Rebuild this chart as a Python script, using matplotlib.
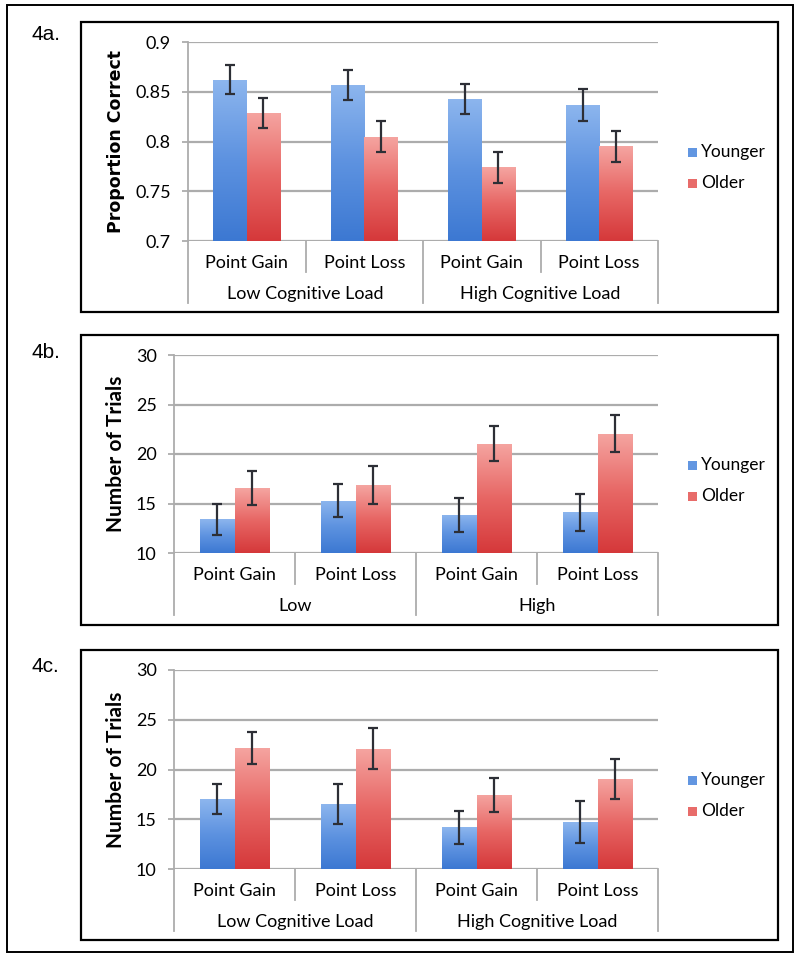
import numpy as np
import matplotlib
matplotlib.use("Agg")
import matplotlib.pyplot as plt
from matplotlib.patches import Rectangle
from matplotlib.colors import LinearSegmentedColormap

# Dati
condizioni = ["Point Gain", "Point Loss", "Point Gain", "Point Loss"]
gruppi_a = ["Low Cognitive Load", "High Cognitive Load"]
gruppi_b = ["Low", "High"]
gruppi_c = ["Low Cognitive Load", "High Cognitive Load"]
serie = ["Younger", "Older"]

# 4a - Proportion Correct
young_a = [0.862, 0.857, 0.843, 0.837]
young_a_err = [0.0145, 0.015, 0.015, 0.016]
older_a = [0.829, 0.805, 0.774, 0.795]
older_a_err = [0.015, 0.016, 0.0155, 0.016]
ticks_a = [0.7, 0.75, 0.8, 0.85, 0.9]

# 4b - Number of Trials
young_b = [13.4, 15.3, 13.85, 14.1]
young_b_err = [1.6, 1.7, 1.75, 1.9]
older_b = [16.55, 16.85, 21.05, 22.05]
older_b_err = [1.75, 1.9, 1.8, 1.85]

# 4c - Number of Trials
young_c = [17.0, 16.5, 14.2, 14.7]
young_c_err = [1.5, 2.0, 1.65, 2.1]
older_c = [22.2, 22.1, 17.45, 19.05]
older_c_err = [1.6, 2.05, 1.7, 2.05]
ticks_bc = [10, 15, 20, 25, 30]

W, H = 800, 956
fig = plt.figure(figsize=(W / 100, H / 100), dpi=100)

cm_blu = LinearSegmentedColormap.from_list("blu", ["#3c78d2", "#5d92e0", "#8db6ee"])
cm_ros = LinearSegmentedColormap.from_list("ros", ["#d5383a", "#e76664", "#f5a5a1"])
grigio = "#acacac"
font_txt = ["Lato", "DejaVu Sans"]


def box_px(x0, y0, x1, y1, lw=1.6):
    r = Rectangle((x0 / W, 1 - y1 / H), (x1 - x0) / W, (y1 - y0) / H,
                  transform=fig.transFigure, fill=False, ec="black", lw=lw)
    fig.add_artist(r)


def barre_gradiente(ax, x, vals, err, cmap, ylim):
    bars = ax.bar(x, vals, width=0.285, bottom=0, color=cmap(0.5), zorder=2)
    grad = np.linspace(1, 0, 256).reshape(-1, 1)
    for b, v in zip(bars, vals):
        x0 = b.get_x()
        im = ax.imshow(grad, extent=[x0, x0 + b.get_width(), ylim[0], v],
                       aspect="auto", cmap=cmap, zorder=3, interpolation="bicubic")
        im.set_clip_path(b)
    ax.errorbar(x, vals, yerr=err, fmt="none", ecolor="#2d2f36", elinewidth=1.6,
                capsize=3.4, capthick=1.6, zorder=4)
    return bars


def pannello(px, etichetta, lab_y, young, young_err, older, older_err,
             ylim, ticks, tick_fmt, ylabel, ylab_font, ylab_size, gruppi, leg_y):
    left, right, top, bottom = px
    ax = fig.add_axes([left / W, 1 - bottom / H, (right - left) / W, (bottom - top) / H])
    hpx = bottom - top
    x = np.arange(4)
    barre_gradiente(ax, x - 0.1425, young, young_err, cm_blu, ylim)
    barre_gradiente(ax, x + 0.1425, older, older_err, cm_ros, ylim)
    ax.set_xlim(-0.5, 3.5)
    ax.set_ylim(*ylim)
    ax.set_yticks(ticks)
    ax.set_yticklabels([tick_fmt(t) for t in ticks], family=font_txt, fontsize=13)
    ax.set_xticks([])
    ax.yaxis.grid(True, color=grigio, lw=1.6)
    ax.set_axisbelow(True)
    for s in ["top", "right", "bottom"]:
        ax.spines[s].set_visible(False)
    ax.spines["left"].set_color(grigio)
    ax.spines["left"].set_linewidth(1.3)
    ax.tick_params(axis="y", length=4.5, width=1.3, color=grigio, pad=8)
    ax.set_ylabel(ylabel, family=ylab_font, fontsize=ylab_size, fontweight="bold", labelpad=7)

    # asse x a due livelli
    tr = ax.get_xaxis_transform()
    for xs in [-0.5, 1.5, 3.5]:
        ax.plot([xs, xs], [0, -62 / hpx], color=grigio, lw=1.3, transform=tr, clip_on=False)
    for xs in [0.5, 2.5]:
        ax.plot([xs, xs], [0, -31 / hpx], color=grigio, lw=1.3, transform=tr, clip_on=False)
    for i, c in enumerate(condizioni):
        ax.text(i, -22 / hpx, c, transform=tr, ha="center", va="center",
                family=font_txt, fontsize=13)
    for j, g in enumerate(gruppi):
        ax.text(0.5 + 2 * j, -53 / hpx, g, transform=tr, ha="center", va="center",
                family=font_txt, fontsize=13)

    # legenda
    for k, (nome, cmap) in enumerate(zip(serie, [cm_blu, cm_ros])):
        yy = leg_y + 31 * k
        fig.add_artist(Rectangle((688 / W, 1 - (yy + 4.5) / H), 9 / W, 9 / H,
                                 transform=fig.transFigure, color=cmap(0.55), lw=0))
        fig.text(701 / W, 1 - yy / H, nome, ha="left", va="center",
                 family=font_txt, fontsize=12.5)

    fig.text(32 / W, 1 - lab_y / H, etichetta, ha="left", va="center",
             family=["Liberation Sans", "DejaVu Sans"], fontsize=15)
    return ax


fmt_a = lambda t: f"{t:g}"
fmt_bc = lambda t: f"{t:d}"

pannello((188, 658, 42, 241), "4a.", 35, young_a, young_a_err, older_a, older_a_err,
         (0.7, 0.9), ticks_a, fmt_a, "Proportion Correct", ["DejaVu Sans"], 12.5,
         gruppi_a, 152)
pannello((174, 658, 355, 553), "4b.", 352, young_b, young_b_err, older_b, older_b_err,
         (10, 30), ticks_bc, fmt_bc, "Number of Trials", font_txt, 15,
         gruppi_b, 465)
pannello((174, 658, 670, 869), "4c.", 667, young_c, young_c_err, older_c, older_c_err,
         (10, 30), ticks_bc, fmt_bc, "Number of Trials", font_txt, 15,
         gruppi_c, 780)

# cornici
box_px(81, 22, 778, 312)
box_px(81, 335, 778, 625)
box_px(81, 650, 778, 940)
box_px(7, 5, 793, 952, lw=1.4)

fig.savefig("out.png", dpi=100)
